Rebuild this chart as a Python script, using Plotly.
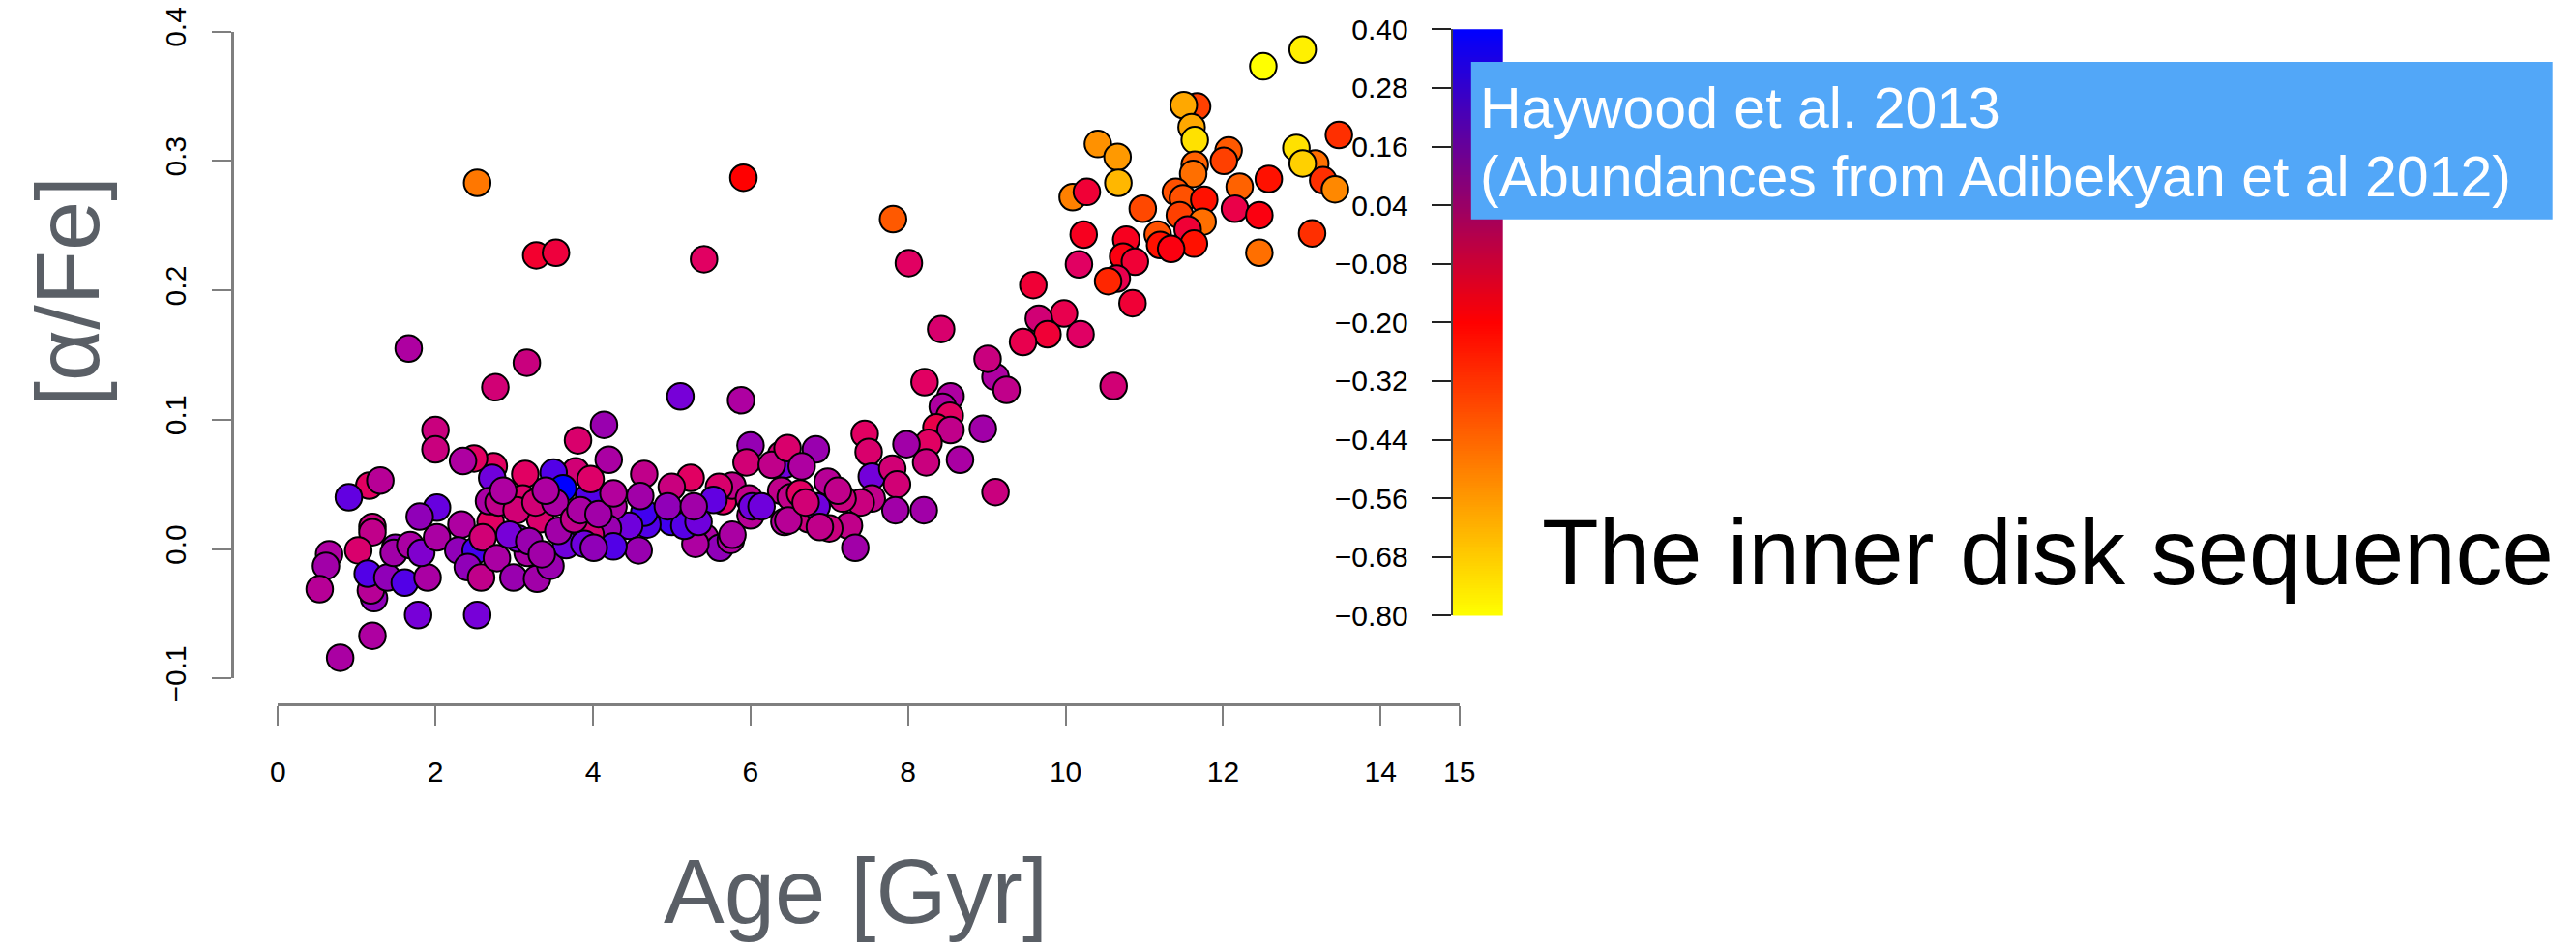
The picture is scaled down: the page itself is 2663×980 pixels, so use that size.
import numpy as np
import plotly.graph_objects as go

W, H = 2663, 980

# Stellar ages (Gyr), [alpha/Fe] and [Fe/H] for the inner-disk sample
age = [
    2.53, 3.28, 3.53, 5.41, 5.91, 1.66, 3.16, 2.76,
    5.11, 5.88, 2.00, 2.00, 4.14, 3.81, 4.20, 6.00, 5.95, 6.39, 6.43, 6.39,
    6.43, 6.51, 4.65, 5.24, 5.00, 5.65, 5.77, 5.98, 5.60, 6.00, 6.02, 5.53,
    5.42, 5.61, 5.75, 5.30, 5.00, 5.16, 4.69, 4.65, 4.95, 4.60, 4.46, 4.58,
    4.26, 4.19, 4.26, 3.95, 3.78, 3.97, 3.50, 3.62, 3.14, 2.74, 2.72, 2.49,
    2.35, 1.16, 1.30, 0.90, 2.02, 1.80, 1.20, 1.20, 1.02, 0.65, 0.61, 0.53,
    0.79, 1.20, 1.78, 2.53, 1.20, 1.22, 1.18, 1.14, 1.39, 1.61, 1.90, 1.49,
    1.47, 1.68, 1.82, 2.02, 2.33, 2.29, 2.51, 2.41, 2.58, 2.70, 2.60, 2.78,
    2.68, 2.80, 2.99, 3.29, 3.46, 3.17, 3.05, 3.33, 3.11, 3.03, 3.27, 3.52,
    3.40, 2.86, 3.72, 3.66, 3.97, 3.89, 4.01, 3.56, 3.76, 3.84, 4.07, 2.94,
    3.19, 3.35, 5.34, 5.28, 5.77, 4.26, 6.14, 6.27, 6.47,
    8.21, 9.11, 9.25, 10.61, 8.54, 8.44, 8.53, 8.36, 8.54, 8.95, 8.26, 7.98,
    8.23, 8.66, 9.11, 7.45, 7.50, 6.83, 7.54, 7.80, 7.86, 7.84, 8.20, 7.54,
    7.40, 7.25, 7.33, 7.17, 7.00, 6.74, 6.48, 6.84, 6.63, 6.70, 6.98, 7.11,
    6.65, 6.88,
    12.51, 7.81, 8.01, 10.41, 10.66, 10.67, 10.09, 10.27, 11.67, 11.50, 11.60,
    11.64, 12.07, 12.01, 11.64, 11.62, 12.21, 12.58, 11.40, 11.49, 11.76,
    10.98, 12.15, 12.46, 11.45, 11.74, 11.55, 11.63, 11.17, 11.20, 11.34,
    12.46, 10.23, 10.77, 10.73, 10.88, 10.17, 10.65, 10.54, 10.85, 9.59,
    9.98, 9.66, 9.77, 9.46, 10.19, 8.42, 9.01, 13.01, 13.47, 12.93, 13.17,
    13.01, 13.27, 13.42, 13.13,
]
alpha_fe = [
    0.283, 0.227, 0.229, 0.224, 0.287, 0.155, 0.144, 0.125,
    0.118, 0.115, 0.092, 0.077, 0.096, 0.084, 0.069, 0.080, 0.067, 0.073, 0.065, 0.045,
    0.021, 0.040, 0.058, 0.055, 0.048, 0.037, 0.049, 0.039, 0.048, 0.026, 0.033, 0.038,
    0.009, 0.001, 0.007, 0.004, 0.021, 0.018, 0.019, 0.028, 0.033, 0.041, 0.018, -0.001,
    0.033, 0.016, 0.002, 0.041, 0.060, 0.054, 0.059, 0.047, 0.058, 0.064, 0.055, 0.070,
    0.068, 0.049, 0.053, 0.040, 0.032, 0.025, 0.017, 0.013, -0.001, -0.004, -0.013, -0.031,
    -0.084, -0.067, -0.051, -0.051, -0.023, -0.038, -0.032, -0.019, -0.022, -0.026, -0.022, 0.001,
    -0.003, 0.003, -0.003, 0.009, 0.019, -0.001, -0.001, -0.014, -0.022, 0.021, 0.009, -0.007,
    0.037, 0.036, -0.022, -0.023, -0.013, -0.003, 0.008, 0.023, 0.039, 0.030, 0.036, 0.036,
    0.045, 0.045, 0.012, 0.003, 0.011, 0.004, 0.001, 0.014, 0.023, 0.030, 0.027, 0.011,
    0.006, -0.004, 0.021, 0.033, 0.011, 0.043, 0.033, 0.065, 0.078,
    0.129, 0.133, 0.123, 0.126, 0.118, 0.110, 0.103, 0.094, 0.092, 0.093, 0.082, 0.081,
    0.067, 0.069, 0.044, 0.089, 0.075, 0.077, 0.056, 0.062, 0.050, 0.030, 0.030, 0.039,
    0.036, 0.018, 0.001, 0.039, 0.016, 0.023, 0.022, 0.033, 0.043, 0.036, 0.052, 0.045,
    0.064, 0.017,
    0.373, 0.255, 0.221, 0.313, 0.303, 0.283, 0.272, 0.276, 0.342, 0.343, 0.326,
    0.316, 0.308, 0.300, 0.297, 0.290, 0.280, 0.286, 0.276, 0.271, 0.270,
    0.263, 0.263, 0.258, 0.258, 0.253, 0.247, 0.236, 0.243, 0.235, 0.232,
    0.229, 0.243, 0.239, 0.226, 0.222, 0.220, 0.209, 0.207, 0.190, 0.204,
    0.182, 0.178, 0.166, 0.160, 0.166, 0.170, 0.147, 0.386, 0.320, 0.310, 0.298,
    0.298, 0.285, 0.278, 0.244,
]
fe_h = [
    -0.48, -0.17, -0.16, -0.13, -0.20, -0.01, -0.07, -0.09,
    0.12, -0.01, -0.07, -0.07, 0.04, -0.11, 0.00, 0.05, -0.09, -0.09, 0.14, -0.05,
    -0.02, -0.05, -0.05, -0.13, -0.07, -0.13, -0.05, -0.05, -0.11, -0.03, 0.14, 0.17,
    0.00, 0.06, -0.01, -0.01, 0.25, 0.20, 0.21, 0.25, 0.06, 0.02, 0.14, 0.04,
    0.00, 0.04, 0.21, 0.21, -0.09, -0.12, 0.21, 0.40, -0.13, -0.13, 0.14, -0.13,
    -0.01, -0.13, -0.03, 0.17, 0.16, 0.06, -0.07, -0.05, -0.11, -0.01, 0.02, -0.03,
    0.00, -0.01, 0.12, 0.12, 0.02, 0.06, -0.03, 0.21, 0.06, 0.21, 0.00, 0.06,
    0.02, 0.00, 0.10, 0.00, -0.01, 0.06, 0.24, 0.06, -0.05, -0.13, -0.09, 0.00,
    0.00, -0.05, 0.04, 0.02, 0.04, 0.00, 0.12, -0.11, -0.11, -0.09, -0.09, 0.00,
    -0.01, -0.01, -0.01, 0.14, -0.09, 0.14, 0.06, 0.02, -0.05, 0.00, 0.02, 0.12,
    0.04, 0.02, 0.14, 0.02, 0.00, -0.02, 0.14, -0.05, -0.11,
    -0.13, -0.01, -0.05, -0.09, -0.01, -0.01, -0.13, -0.15, -0.05, 0.02, -0.13, 0.02,
    -0.07, 0.00, -0.07, -0.13, -0.11, 0.04, 0.13, -0.09, -0.09, 0.02, 0.02, -0.05,
    -0.07, -0.05, 0.02, -0.07, -0.07, -0.07, -0.03, 0.14, -0.13, -0.09, -0.03, -0.05,
    -0.01, -0.05,
    -0.80, -0.41, -0.13, -0.54, -0.56, -0.63, -0.50, -0.165, -0.35, -0.595, -0.595,
    -0.73, -0.41, -0.35, -0.43, -0.46, -0.43, -0.24, -0.39, -0.39, -0.24,
    -0.37, -0.15, -0.19, -0.35, -0.46, -0.165, -0.24, -0.39, -0.24, -0.19,
    -0.46, -0.18, -0.18, -0.19, -0.165, -0.13, -0.146, -0.29, -0.165, -0.165,
    -0.146, -0.09, -0.165, -0.146, -0.127, -0.108, -0.07, -0.765, -0.31, -0.73, -0.46,
    -0.69, -0.31, -0.52, -0.31,
]

x_ticks = [0, 2, 4, 6, 8, 10, 12, 14, 15]
y_ticks = [-0.1, 0.0, 0.1, 0.2, 0.3, 0.4]
cbar_ticks = [0.40, 0.28, 0.16, 0.04, -0.08, -0.20, -0.32, -0.44, -0.56, -0.68, -0.80]
cmin, cmax = -0.8, 0.4

# colour key: yellow -> red -> blue
key_scale = [[0.0, "#FFFF00"], [0.5, "#FF0000"], [1.0, "#0000FF"]]
# point fill: same end colours, with brighter magenta/violet tones between red and blue
point_scale = [
    [0.0, "#FFFF00"], [0.5, "#FF0000"], [0.53, "#F00038"], [0.56, "#E00064"],
    [0.61, "#C8007F"], [0.655, "#B000A0"], [0.685, "#A000A8"], [0.7175, "#9000B8"],
    [0.765, "#7800D8"], [0.845, "#5000E8"], [0.875, "#4000F0"], [1.0, "#0000FF"],
]


def minus(s):
    return s.replace("-", "\u2212")


def px_x(p):
    return p / W


def px_y(p):
    return 1 - p / H


FONT = "Liberation Sans, Arial, Helvetica, sans-serif"
AXIS_GREY = "#7f7f7f"
TITLE_GREY = "#5a5f66"

fig = go.Figure()

fig.add_trace(go.Scatter(
    x=age, y=alpha_fe, mode="markers", cliponaxis=False,
    marker=dict(size=27.5, color=fe_h, colorscale=point_scale, cmin=cmin, cmax=cmax,
                showscale=False, line=dict(color="black", width=2)),
    xaxis="x", yaxis="y", hoverinfo="skip",
))

# colour key drawn as a one-column heatmap on its own axes
levels = np.linspace(cmin, cmax, 241)
fig.add_trace(go.Heatmap(
    x=[0], y=levels, z=[[v] for v in levels], colorscale=key_scale,
    zmin=cmin, zmax=cmax, showscale=False, xaxis="x2", yaxis="y2", hoverinfo="skip",
))

fig.update_layout(
    width=W, height=H,
    margin=dict(l=0, r=0, t=0, b=0, pad=0, autoexpand=False),
    paper_bgcolor="white", plot_bgcolor="white",
    showlegend=False,
    font=dict(family=FONT, color="black"),
    xaxis=dict(
        domain=[px_x(287.3), px_x(1508.7)], range=[0, 15],
        anchor="free", position=px_y(728), automargin=False,
        tickvals=x_ticks, ticktext=[str(v) for v in x_ticks],
        showline=True, linecolor=AXIS_GREY, linewidth=3,
        ticks="outside", ticklen=20, tickwidth=1.5, tickcolor=AXIS_GREY,
        tickfont=dict(size=30, color="black", family=FONT),
        ticklabelstandoff=22,
        showgrid=False, zeroline=False,
    ),
    yaxis=dict(
        domain=[px_y(701.3), px_y(32.5)], range=[-0.1, 0.4],
        anchor="free", position=px_x(240), automargin=False,
        tickvals=y_ticks, ticktext=[minus(f"{v:.1f}") for v in y_ticks],
        tickangle=-90,
        showline=True, linecolor=AXIS_GREY, linewidth=3,
        ticks="outside", ticklen=20, tickwidth=1.5, tickcolor=AXIS_GREY,
        tickfont=dict(size=30, color="black", family=FONT),
        ticklabelstandoff=15,
        showgrid=False, zeroline=False,
    ),
    xaxis2=dict(
        domain=[px_x(1501.7), px_x(1554)], range=[-0.5, 0.5],
        anchor="y2", visible=False, automargin=False,
    ),
    yaxis2=dict(
        domain=[px_y(636.4), px_y(30.3)], range=[cmin, cmax],
        anchor="x2", side="left", automargin=False,
        tickvals=cbar_ticks, ticktext=[minus(f"{v:.2f}") for v in cbar_ticks],
        showline=True, linecolor="#444444", linewidth=2,
        ticks="outside", ticklen=20, tickwidth=2, tickcolor="#222222",
        tickfont=dict(size=30, color="black", family=FONT),
        ticklabelstandoff=18,
        showgrid=False, zeroline=False,
    ),
    shapes=[dict(
        type="rect", xref="paper", yref="paper",
        x0=px_x(1520.8), x1=px_x(2638.7), y0=px_y(226.7), y1=px_y(64),
        fillcolor="#52A7F8", line=dict(width=0), layer="above",
    )],
    annotations=[
        dict(text="[\u03b1/Fe]", xref="paper", yref="paper", x=px_x(69), y=px_y(301.5),
             textangle=-90, showarrow=False, xanchor="center", yanchor="middle",
             font=dict(size=92, color=TITLE_GREY, family=FONT)),
        dict(text="Age [Gyr]", xref="paper", yref="paper", x=px_x(884), y=px_y(921),
             showarrow=False, xanchor="center", yanchor="middle",
             font=dict(size=94, color=TITLE_GREY, family=FONT)),
        dict(text="Haywood et al. 2013", xref="paper", yref="paper",
             x=px_x(1528), y=px_y(112), showarrow=False, xanchor="left", yanchor="middle",
             font=dict(size=59, color="white", family=FONT)),
        dict(text="(Abundances from Adibekyan et al 2012)", xref="paper", yref="paper",
             x=px_x(1528), y=px_y(183), showarrow=False, xanchor="left", yanchor="middle",
             font=dict(size=59, color="white", family=FONT)),
        dict(text="The inner disk sequence", xref="paper", yref="paper",
             x=px_x(1592), y=px_y(570), showarrow=False, xanchor="left", yanchor="middle",
             font=dict(size=96, color="black", family=FONT)),
    ],
)

fig.write_html("out.html")
